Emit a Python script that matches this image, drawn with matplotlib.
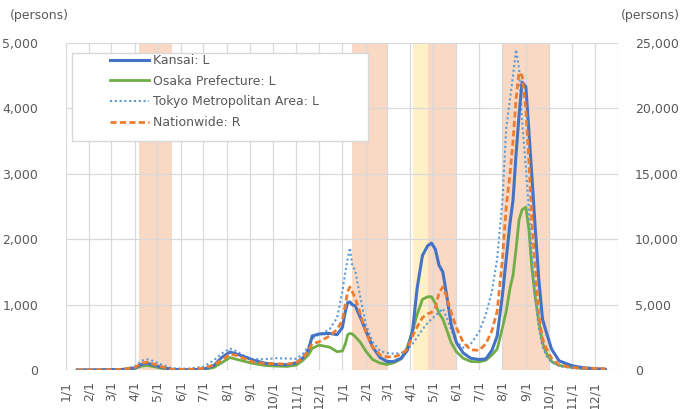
import numpy as np
import matplotlib
matplotlib.use("Agg")
import matplotlib.pyplot as plt
import matplotlib.dates as mdates
from matplotlib.patches import Rectangle

# data (7-day average of new cases)
dates = [
    "2020-01-16", "2020-02-15", "2020-03-15", "2020-04-01", "2020-04-10", "2020-04-17", "2020-04-25", "2020-05-05", "2020-05-20", "2020-06-10",
    "2020-07-01", "2020-07-15", "2020-07-25", "2020-08-05", "2020-08-15", "2020-08-25", "2020-09-05", "2020-09-20", "2020-10-05", "2020-10-20",
    "2020-11-01", "2020-11-10", "2020-11-17", "2020-11-22", "2020-12-01", "2020-12-15", "2020-12-25",
    "2021-01-01", "2021-01-05", "2021-01-08", "2021-01-11", "2021-01-14", "2021-01-18", "2021-01-25", "2021-02-01", "2021-02-10", "2021-02-20",
    "2021-03-01", "2021-03-10", "2021-03-20", "2021-03-28", "2021-04-04", "2021-04-10", "2021-04-17", "2021-04-24", "2021-04-29",
    "2021-05-04", "2021-05-09", "2021-05-14", "2021-05-19", "2021-05-25", "2021-06-01", "2021-06-10", "2021-06-20",
    "2021-07-01", "2021-07-10", "2021-07-18", "2021-07-25", "2021-08-01", "2021-08-06", "2021-08-11", "2021-08-15", "2021-08-19",
    "2021-08-23", "2021-08-27", "2021-09-01", "2021-09-05", "2021-09-09", "2021-09-13", "2021-09-18", "2021-09-23", "2021-09-28",
    "2021-10-05", "2021-10-15", "2021-11-01", "2021-11-15", "2021-12-01", "2021-12-15",
]

kansai = [
    0, 2, 8, 30, 85, 105, 80, 45, 10, 3,
    10, 70, 190, 275, 240, 200, 150, 105, 85, 80,
    110, 190, 300, 520, 550, 560, 540,
    650, 900, 1030, 1040, 1000, 980, 800, 600, 350, 190,
    130, 130, 180, 300, 600, 1250, 1750, 1900, 1940,
    1850, 1600, 1500, 1150, 700, 420, 260, 180,
    160, 170, 300, 520, 1150, 1700, 2250, 2600, 3300,
    3900, 4400, 4330, 3650, 2950, 2240, 1400, 780, 580,
    320, 140, 66, 36, 20, 12,
]

osaka = [
    0, 1, 5, 20, 60, 70, 55, 30, 5, 2,
    5, 40, 110, 190, 160, 130, 100, 70, 60, 55,
    75, 150, 230, 330, 380, 350, 280,
    290, 400, 540, 560, 550, 510, 420, 290, 160, 105,
    85, 110, 170, 350, 600, 850, 1080, 1120, 1120,
    1020, 870, 780, 620, 420, 280, 180, 130,
    125, 150, 230, 320, 650, 900, 1250, 1450, 1850,
    2300, 2450, 2490, 2150, 1550, 1150, 750, 420, 260,
    130, 70, 40, 25, 15, 10,
]

tokyo = [
    0, 3, 10, 50, 140, 165, 140, 90, 25, 20,
    50, 150, 250, 330, 280, 205, 165, 165, 180, 175,
    170, 250, 360, 480, 540, 620, 800,
    1200, 1500, 1700, 1870, 1600, 1520, 1100, 700, 430, 290,
    260, 250, 260, 320, 400, 500, 620, 720, 780,
    830, 880, 940, 800, 620, 430, 340, 400,
    580, 850, 1200, 1700, 2600, 3700, 4150, 4500, 4900,
    4600, 3800, 3100, 2450, 1700, 1150, 650, 356, 220,
    120, 60, 30, 20, 15, 12,
]

nationwide = [
    0, 10, 40, 200, 500, 600, 475, 275, 50, 40,
    125, 400, 750, 1200, 1100, 850, 600, 500, 475, 450,
    575, 900, 1500, 2000, 2150, 2600, 3100,
    3800, 5000, 6000, 6350, 6000, 5500, 4250, 2900, 1750, 1150,
    1000, 1000, 1200, 1600, 2600, 3300, 4000, 4300, 4400,
    4750, 5900, 6350, 5600, 4400, 3250, 2100, 1550,
    1500, 2000, 3000, 4500, 8500, 12500, 15000, 17500, 20750,
    22750, 22500, 19850, 16000, 11250, 8100, 4250, 2400, 1650,
    900, 400, 200, 150, 125, 100,
]

# state of emergency / priority measures periods
emergency = [("2020-04-07", "2020-05-21"), ("2021-01-14", "2021-03-01"),
             ("2021-04-25", "2021-06-01"), ("2021-08-02", "2021-10-01")]
priority = [("2021-04-05", "2021-04-25")]

month_labels = [f"{m}/1" for m in range(1, 13)] * 2
left_ticks = [0, 1000, 2000, 3000, 4000, 5000]
right_ticks = [0, 5000, 10000, 15000, 20000, 25000]

GRAY = "#595959"
GRID = "#D9D9D9"

x = [np.datetime64(d) for d in dates]
x = mdates.date2num(np.array(x, dtype="datetime64[D]"))

fig = plt.figure(figsize=(6.87, 4.09), dpi=100)
ax = fig.add_axes([66 / 687, 39 / 409, 552 / 687, 327 / 409])
ax2 = ax.twinx()

for a, b in emergency:
    ax.axvspan(np.datetime64(a), np.datetime64(b), color="#F9D8C4", lw=0, zorder=1)
for a, b in priority:
    ax.axvspan(np.datetime64(a), np.datetime64(b), color="#FFF0C6", lw=0, zorder=1)

l1, = ax.plot(x, kansai, color="#4472C4", lw=2.2, label="Kansai: L", zorder=4)
l2, = ax.plot(x, osaka, color="#70AD47", lw=2.0, label="Osaka Prefecture: L", zorder=3)
l3, = ax.plot(x, tokyo, color="#5B9BD5", lw=1.5, ls=(0, (1, 1.3)), label="Tokyo Metropolitan Area: L", zorder=3)
l4, = ax2.plot(x, nationwide, color="#ED7D31", lw=2.0, ls=(0, (2.2, 1.2)), label="Nationwide: R", zorder=3)

# x axis: month gridlines
month_pos = [np.datetime64(f"{y}-{m:02d}-01") for y in (2020, 2021) for m in range(1, 13)]
month_pos.append(np.datetime64("2022-01-01"))
ax.set_xlim(np.datetime64("2020-01-01"), np.datetime64("2022-01-01"))
ax.set_xticks(month_pos)
ax.set_xticklabels(month_labels + [""], rotation=90, color=GRAY, fontsize=9)
ax.tick_params(axis="x", length=0, pad=8)

ax.set_ylim(0, 5000)
ax.set_yticks(left_ticks)
ax.set_yticklabels([f"{v:,}" for v in left_ticks], color=GRAY, fontsize=9)
ax.tick_params(axis="y", length=0, pad=20)

ax2.set_ylim(0, 25000)
ax2.set_yticks(right_ticks)
ax2.set_yticklabels([f"{v:,}" for v in right_ticks], color=GRAY, fontsize=9)
ax2.tick_params(axis="y", length=0, pad=12)

ax.grid(True, color=GRID, lw=0.9)
for a in (ax, ax2):
    for s in a.spines.values():
        s.set_visible(False)

fig.text(10 / 687, 1 - 16 / 409, "(persons)", color=GRAY, fontsize=9, va="center", ha="left")
fig.text(680 / 687, 1 - 16 / 409, "(persons)", color=GRAY, fontsize=9, va="center", ha="right")

# legend with white box
ax2.add_patch(Rectangle((72 / 687, 1 - 141 / 409), 296 / 687, 88 / 409, transform=fig.transFigure,
                        facecolor="white", edgecolor=GRID, lw=1, zorder=10, clip_on=False))
leg = ax2.legend(handles=[l1, l2, l3, l4], loc="upper left", bbox_to_anchor=(110 / 687, 1 - 54 / 409),
                 bbox_transform=fig.transFigure, frameon=False, fontsize=9, handlelength=3.1,
                 handletextpad=0.35, labelspacing=0.62, borderpad=0, borderaxespad=0)
leg.set_zorder(11)
for t in leg.get_texts():
    t.set_color(GRAY)

fig.savefig("out.png", dpi=100)
